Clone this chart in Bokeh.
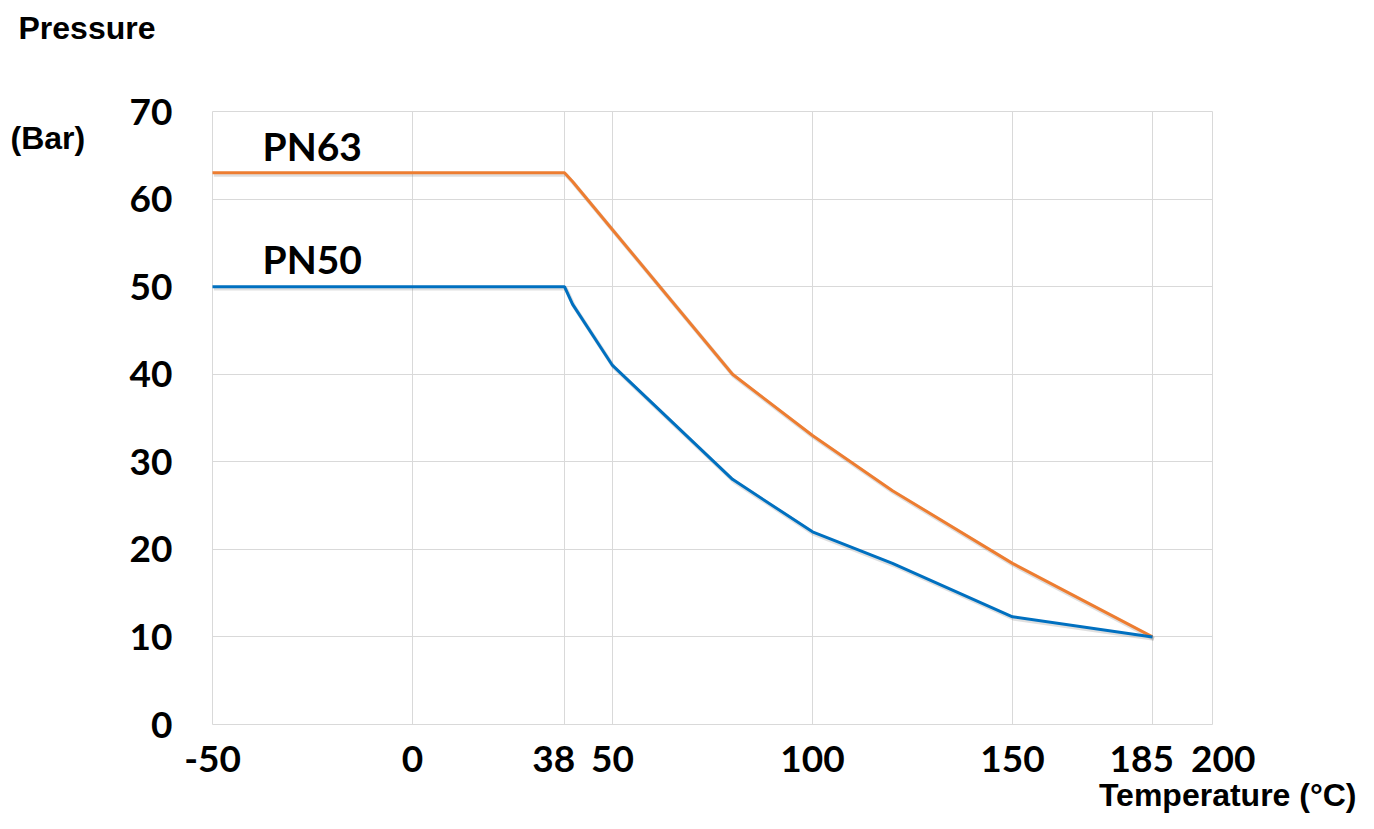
from bokeh.plotting import figure
from bokeh.models import Range1d, FixedTicker, Label, ColumnDataSource, Grid
from bokeh.transform import dodge
from bokeh.embed import file_html
from bokeh.resources import INLINE

# ---- data ----
temp_pn63 = [-50, 38, 40, 50, 80, 100, 120, 150, 185]
pres_pn63 = [63, 63, 62, 56.5, 40, 33, 26.7, 18.4, 10]
temp_pn50 = [-50, 38, 40, 50, 80, 100, 120, 150, 185]
pres_pn50 = [50, 50, 48, 41, 28, 22, 18.4, 12.3, 10]
x_ticks = [-50, 0, 38, 50, 100, 150, 185, 200]
y_ticks = [0, 10, 20, 30, 40, 50, 60, 70]
x_tick_text = {-50: "-50", 38: "38\u2007", 185: "185\u2007", 200: "\u2007200"}
series_names = ["PN63", "PN50"]
series_colors = ["#ED7D31", "#0070C0"]

TICK_FONT = "Lato"
LABEL_FONT = "Liberation Sans"

# ---- layout: the frame spans the whole canvas; axes are pinned at x=-50 / y=0 ----
W, H = 1358, 813
PX_X = 4.0                 # px per degree
PX_Y = 613.0 / 70.0        # px per bar
X0, Y0 = 212, 724          # canvas position of (-50, 0)
x_lo = x_ticks[0] - X0 / PX_X
x_hi = x_lo + W / PX_X
y_lo = -(H - Y0) / PX_Y
y_hi = y_lo + H / PX_Y

def cx(px):   # canvas x -> data x
    return x_lo + px / PX_X

def cy(py):   # canvas y (from top) -> data y
    return (Y0 - py) / PX_Y

p = figure(width=W, height=H, output_backend="svg", toolbar_location=None,
           title_location=None, min_border=0,
           x_range=Range1d(x_lo, x_hi), y_range=Range1d(y_lo, y_hi))
p.outline_line_color = None
p.background_fill_color = "white"
p.border_fill_color = "white"

xa, ya = p.xaxis[0], p.yaxis[0]
xa.fixed_location = y_ticks[0]
ya.fixed_location = x_ticks[0]
for ax in (xa, ya):
    ax.axis_line_color = None
    ax.major_tick_line_color = None
    ax.minor_tick_line_color = None
    ax.major_tick_out = 0
    ax.major_tick_in = 0
    ax.major_label_text_font = TICK_FONT
    ax.major_label_text_font_style = "bold"
    ax.major_label_text_font_size = "37px"
    ax.major_label_text_color = "black"
xa.ticker = FixedTicker(ticks=x_ticks)
ya.ticker = FixedTicker(ticks=y_ticks)
xa.major_label_overrides = x_tick_text
xa.major_label_standoff = 10
ya.major_label_standoff = 40

GRID = "#D9D9D9"
if "cross_bounds" in Grid.properties():
    p.xgrid.ticker = FixedTicker(ticks=x_ticks)
    p.ygrid.ticker = FixedTicker(ticks=y_ticks)
    p.xgrid.cross_bounds = (y_ticks[0], y_ticks[-1])
    p.ygrid.cross_bounds = (x_ticks[0], x_ticks[-1])
    for g in (p.xgrid[0], p.ygrid[0]):
        g.grid_line_color = GRID
        g.grid_line_width = 1
else:
    p.xgrid.visible = False
    p.ygrid.visible = False
    p.segment(x0=x_ticks, y0=[y_ticks[0]] * len(x_ticks), x1=x_ticks, y1=[y_ticks[-1]] * len(x_ticks),
              line_color=GRID, line_width=1)
    p.segment(x0=[x_ticks[0]] * len(y_ticks), y0=y_ticks, x1=[x_ticks[-1]] * len(y_ticks), y1=y_ticks,
              line_color=GRID, line_width=1)

src63 = ColumnDataSource(dict(x=temp_pn63, y=pres_pn63))
src50 = ColumnDataSource(dict(x=temp_pn50, y=pres_pn50))
for src, col in ((src63, series_colors[0]), (src50, series_colors[1])):
    p.line(x=dodge("x", 0.35, range=p.x_range), y=dodge("y", -0.22, range=p.y_range),
           source=src, line_color="#808080", line_alpha=0.25, line_width=4)
    p.line(x="x", y="y", source=src, line_color=col, line_width=3)

# series labels
for name, xs, ys in ((series_names[0], temp_pn63, pres_pn63), (series_names[1], temp_pn50, pres_pn50)):
    p.add_layout(Label(x=xs[0] + 12.5, y=ys[0] + 3.1, text=name,
                       text_font=TICK_FONT, text_font_style="bold",
                       text_font_size="39px", text_color="black",
                       text_baseline="middle"))

# axis titles
common = dict(text_font=LABEL_FONT, text_font_style="bold", text_font_size="32px",
              text_color="black", text_baseline="middle")
p.add_layout(Label(x=cx(18), y=cy(27), text="Pressure", **common))
p.add_layout(Label(x=cx(10), y=cy(137), text="(Bar)", **common))
p.add_layout(Label(x=cx(W - 2), y=cy(794), text="Temperature (°C)", text_align="right", **common))

open("out.html", "w").write(file_html(p, INLINE))
